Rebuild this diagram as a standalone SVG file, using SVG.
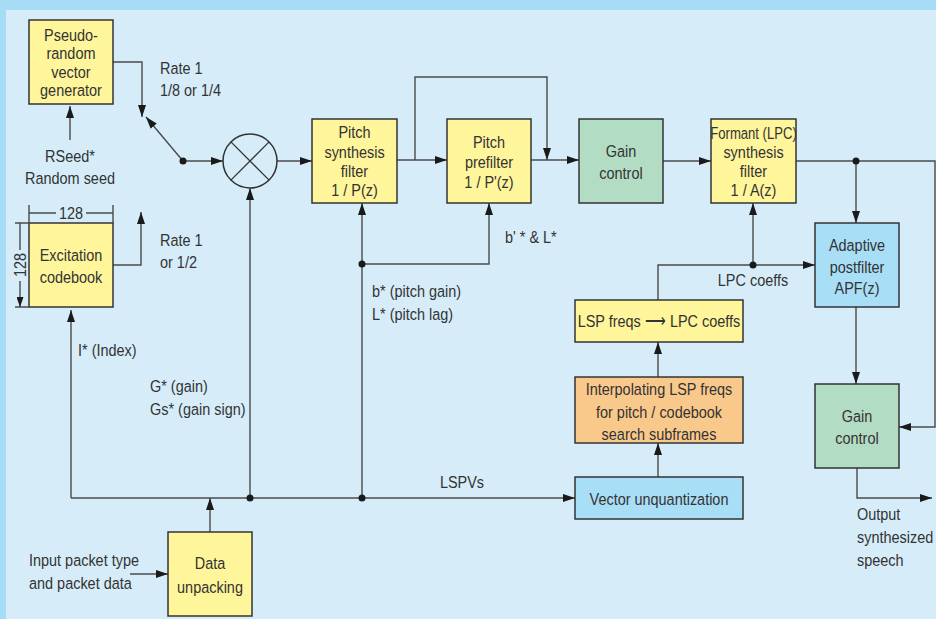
<svg xmlns="http://www.w3.org/2000/svg" width="936" height="619" viewBox="0 0 936 619">
<defs>
<style>
.bg{fill:#d6edf9}
.box{stroke:#333;stroke-width:1.5}
.y{fill:#fff59b}.g{fill:#b3dcc5}.b{fill:#a9def7}.o{fill:#f9c98b}
.ln{fill:none;stroke:#4a4a4a;stroke-width:1.4}
.ar{marker-end:url(#ah)}
text{font-family:"Liberation Sans",Arial,sans-serif;font-size:17px;fill:#333;transform-box:fill-box;transform-origin:0% 50%;transform:scaleX(0.85)}
.c{text-anchor:middle;transform-origin:50% 50%}
.f{transform:scaleX(0.77)}
.dot{fill:#1a1a1a}
</style>
<marker id="ah" viewBox="0 0 12 8" refX="12" refY="4" markerWidth="12" markerHeight="8" markerUnits="userSpaceOnUse" orient="auto"><path d="M0,0 L12,4 L0,8 z" fill="#1a1a1a"/></marker>
<marker id="ahs" viewBox="0 0 10 7" refX="10" refY="3.5" markerWidth="10" markerHeight="7" markerUnits="userSpaceOnUse" orient="auto"><path d="M0,0 L10,3.5 L0,7 z" fill="#1a1a1a"/></marker>
</defs>
<rect x="0" y="0" width="936" height="619" fill="#a6dcf5"/>
<rect x="6" y="10" width="930" height="609" class="bg"/>

<g id="connectors">
<path class="ln ar" d="M113,62 H142 V117"/>
<path class="ln ar" d="M183,161 L146,117"/>
<path class="ln ar" d="M183,161 H223"/>
<path class="ln ar" d="M277,161 H312"/>
<path class="ln ar" d="M397,160 H447"/>
<path class="ln ar" d="M415,160 V77 H547 V160"/>
<path class="ln ar" d="M531,160 H579"/>
<path class="ln ar" d="M663,161 H711"/>
<path class="ln ar" d="M796,161 H935 V427 H899"/>
<path class="ln ar" d="M856,161 V223"/>
<path class="ln ar" d="M856,307 V384"/>
<path class="ln ar" d="M857,468 V498 H932"/>
<path class="ln ar" d="M658,300 V265 H815"/>
<path class="ln ar" d="M753,265 V203"/>
<path class="ln ar" d="M658,377 V342"/>
<path class="ln ar" d="M658,477 V443"/>
<path class="ln ar" d="M71,498 H575"/>
<path class="ln ar" d="M71,498 V310"/>
<path class="ln ar" d="M210,532 V498"/>
<path class="ln ar" d="M250,498 V188"/>
<path class="ln ar" d="M362,498 V203"/>
<path class="ln ar" d="M362,264 H489 V203"/>
<path class="ln ar" d="M113,265 H141 V212"/>
<path class="ln ar" d="M70,140 V106"/>
<path class="ln ar" d="M130,574 H168"/>
<circle class="dot" cx="183" cy="161" r="3.5"/>
<circle class="dot" cx="250" cy="498" r="3.5"/>
<circle class="dot" cx="362" cy="498" r="3.5"/>
<circle class="dot" cx="362" cy="264" r="3.5"/>
<circle class="dot" cx="856" cy="161" r="3.5"/>
<circle class="dot" cx="753" cy="265" r="3.5"/>
</g>

<g id="mixer">
<circle cx="250" cy="161" r="27" fill="none" stroke="#333" stroke-width="1.5"/>
<path d="M230.9,141.9 L269.1,180.1 M269.1,141.9 L230.9,180.1" stroke="#333" stroke-width="1.3"/>
</g>

<g id="pseudo">
<rect class="box y" x="29" y="20" width="84" height="84"/>
<text class="c" x="71" y="41">Pseudo-</text>
<text class="c" x="71" y="59">random</text>
<text class="c" x="71" y="78">vector</text>
<text class="c" x="71" y="96">generator</text>
</g>

<g id="excitation">
<rect class="box y" x="29" y="223" width="84" height="84"/>
<text class="c" x="71" y="261">Excitation</text>
<text class="c" x="71" y="283">codebook</text>
<path class="ln" d="M29,205 V223 M113,205 V223 M15,223 H29 M15,307 H29" stroke-width="1"/>
<path class="ln" d="M56,213 H29 M86,213 H113 M20,250 V223 M20,281 V307" marker-end="url(#ahs)" stroke-width="1.2"/>
<text class="c" x="71" y="219">128</text>
<g transform="translate(26,265) rotate(-90)"><text class="c" x="0" y="0">128</text></g>
</g>

<g id="pitch-synth">
<rect class="box y" x="312" y="119" width="85" height="84"/>
<text class="c" x="354.5" y="138">Pitch</text>
<text class="c" x="354.5" y="158">synthesis</text>
<text class="c" x="354.5" y="177">filter</text>
<text class="c" x="354.5" y="196">1 / P(z)</text>
</g>

<g id="pitch-pre">
<rect class="box y" x="447" y="119" width="84" height="84"/>
<text class="c" x="489" y="148">Pitch</text>
<text class="c" x="489" y="168">prefilter</text>
<text class="c" x="489" y="188">1 / P'(z)</text>
</g>

<g id="gain1">
<rect class="box g" x="579" y="119" width="84" height="84"/>
<text class="c" x="621" y="157">Gain</text>
<text class="c" x="621" y="179">control</text>
</g>

<g id="formant">
<rect class="box y" x="711" y="119" width="85" height="84"/>
<text class="c f" x="753.5" y="139">Formant (LPC)</text>
<text class="c" x="753.5" y="158">synthesis</text>
<text class="c" x="753.5" y="177">filter</text>
<text class="c" x="753.5" y="196">1 / A(z)</text>
</g>

<g id="apf">
<rect class="box b" x="815" y="223" width="84" height="84"/>
<text class="c" x="857" y="251">Adaptive</text>
<text class="c" x="857" y="273">postfilter</text>
<text class="c" x="857" y="294">APF(z)</text>
</g>

<g id="gain2">
<rect class="box g" x="815" y="384" width="84" height="84"/>
<text class="c" x="857" y="422">Gain</text>
<text class="c" x="857" y="444">control</text>
</g>

<g id="lsp2lpc">
<rect class="box y" x="575" y="300" width="168" height="42"/>
<text class="c" x="659" y="327">LSP freqs ⟶ LPC coeffs</text>
</g>

<g id="interp">
<rect class="box o" x="575" y="377" width="168" height="66"/>
<text class="c" x="659" y="395">Interpolating LSP freqs</text>
<text class="c" x="659" y="418">for pitch / codebook</text>
<text class="c" x="659" y="440">search subframes</text>
</g>

<g id="vq">
<rect class="box b" x="575" y="477" width="168" height="42"/>
<text class="c" x="659" y="505">Vector unquantization</text>
</g>

<g id="unpack">
<rect class="box y" x="168" y="532" width="84" height="84"/>
<text class="c" x="210" y="569">Data</text>
<text class="c" x="210" y="593">unpacking</text>
</g>

<g id="labels">
<text x="160" y="74">Rate 1</text>
<text x="160" y="96">1/8 or 1/4</text>
<text class="c" x="70" y="162">RSeed*</text>
<text class="c" x="70" y="184">Random seed</text>
<text x="160" y="246">Rate 1</text>
<text x="160" y="268">or 1/2</text>
<text x="78" y="356">I* (Index)</text>
<text x="150" y="392">G* (gain)</text>
<text x="150" y="415">Gs* (gain sign)</text>
<text x="505" y="243">b' * &amp; L*</text>
<text x="372" y="297">b* (pitch gain)</text>
<text x="372" y="320">L* (pitch lag)</text>
<text class="c" x="753" y="286">LPC coeffs</text>
<text class="c" x="462" y="488">LSPVs</text>
<text x="857" y="520">Output</text>
<text x="857" y="543">synthesized</text>
<text x="857" y="566">speech</text>
<text x="29" y="566">Input packet type</text>
<text x="29" y="589">and packet data</text>
</g>
</svg>
